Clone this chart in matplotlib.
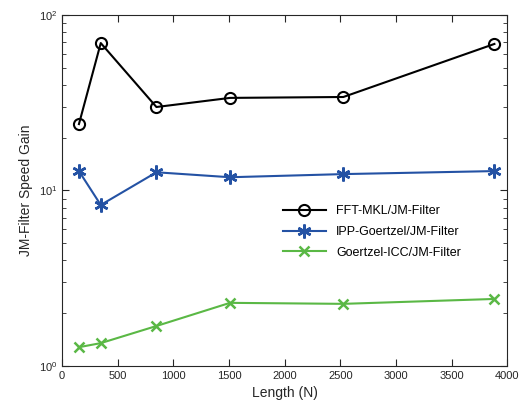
import matplotlib.pyplot as plt
import numpy as np

plt.rcParams['font.family'] = ['Liberation Sans', 'DejaVu Sans']
plt.rcParams['mathtext.fontset'] = 'custom'
plt.rcParams['mathtext.rm'] = 'Liberation Sans'
plt.rcParams['mathtext.it'] = 'Liberation Sans'

# data
length = [152, 348, 848, 1509, 2527, 3884]
fft_mkl = [23.9, 69.2, 29.9, 33.7, 34.1, 68.4]
ipp_goertzel = [12.9, 8.27, 12.7, 11.9, 12.4, 12.9]
goertzel_icc = [1.28, 1.35, 1.69, 2.29, 2.26, 2.41]

xTicks = [0, 500, 1000, 1500, 2000, 2500, 3000, 3500, 4000]

fig = plt.figure(figsize=(5.19, 4.13), dpi=100)
ax = fig.add_axes([0.1195, 0.1138, 0.858, 0.8499])

ax.plot(length, fft_mkl, color="black", lw=1.5, marker="o", ms=8,
        mfc="none", mew=1.5, label="FFT-MKL/JM-Filter")
ax.plot(length, ipp_goertzel, color="#2452a4", lw=1.5, marker=(6, 2, 0), ms=10,
        mew=1.8, label="IPP-Goertzel/JM-Filter")
ax.plot(length, goertzel_icc, color="#5ab845", lw=1.5, marker="x", ms=7,
        mew=1.8, label="Goertzel-ICC/JM-Filter")

ax.set_yscale("log")
ax.set_xlim(0, 4000)
ax.set_ylim(1, 100)
ax.set_xticks(xTicks)
ax.set_xlabel("Length (N)", fontsize=10, color="#262626")
ax.set_ylabel("JM-Filter Speed Gain", fontsize=10, color="#262626")
ax.tick_params(which="both", direction="in", top=True, right=True,
               labelsize=8, labelcolor="#262626", color="#262626")
ax.tick_params(which="major", length=5)
ax.tick_params(which="minor", length=3)
for s in ax.spines.values():
    s.set_color("#262626")
    s.set_linewidth(0.8)

ax.legend(loc="upper left", bbox_to_anchor=(0.47, 0.49), frameon=False,
          fontsize=9, handlelength=3.5, labelspacing=0.7)

fig.savefig("out.png", dpi=100)
